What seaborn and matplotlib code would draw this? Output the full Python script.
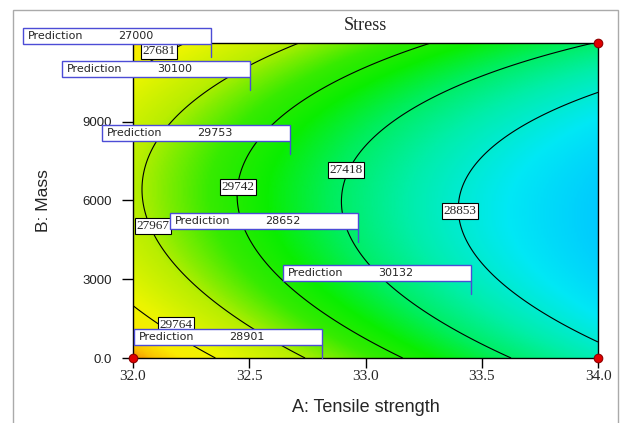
import numpy as np
import seaborn as sns
import matplotlib.pyplot as plt
from matplotlib.colors import LinearSegmentedColormap
from matplotlib.patches import Rectangle
from matplotlib.lines import Line2D

# factor ranges
a_range = [32.0, 34.0]        # A: Tensile strength
b_range = [0.0, 12000.0]      # B: Mass

# quadratic response model for Stress, coded units (a, b in [-1, 1])
# terms: intercept, A, B, AB, A^2, B^2
model_coefs = [28392.0, -1029.5, 26.0, 147.5, 132.5, 819.0]
contour_levels = [28000, 28500, 29000, 29500, 30000]

# labels sitting on the contour lines (as printed in the picture)
contour_label_text = ['27681', '29742', '27418', '27967', '28853', '29764']
contour_label_a = [32.112, 32.452, 32.916, 32.086, 33.406, 32.185]
contour_label_b = [11695, 6514, 7162, 5029, 5600, 1257]

# prediction flags
pred_values = [27000, 30100, 29753, 28652, 30132, 28901]
pred_a = [32.335, 32.503, 32.675, 32.968, 33.454, 32.813]
pred_b = [11467, 10210, 7771, 4419, 2438, 0]

# design points
design_a = [32.0, 34.0, 34.0]
design_b = [0, 12000, 0]

x_ticks = [32.0, 32.5, 33.0, 33.5, 34.0]
y_ticks = [0, 3000, 6000, 9000]
y_tick_labels = ['0.0', '3000', '6000', '9000']


def stress(A, B):
    a = (A - 33.0) / 1.0
    b = (B - 6000.0) / 6000.0
    c = model_coefs
    return c[0] + c[1]*a + c[2]*b + c[3]*a*b + c[4]*a**2 + c[5]*b**2


sns.set_style("ticks")
plt.rcParams['font.family'] = ['Liberation Sans', 'DejaVu Sans']

# Design-Expert style colour ramp (blue -> cyan -> green -> yellow -> orange)
vmin, vmax = 27450, 30520
nodes = [(27450, (0, 200, 255)), (27800, (0, 232, 245)), (28200, (0, 238, 170)),
         (28550, (0, 238, 90)), (28850, (10, 238, 0)), (29150, (55, 235, 0)),
         (29550, (185, 238, 0)), (29950, (235, 245, 0)), (30200, (250, 235, 0)),
         (30380, (250, 195, 0)), (30520, (245, 135, 0))]
cmap = LinearSegmentedColormap.from_list(
    'de', [((v - vmin) / (vmax - vmin), tuple(ch / 255 for ch in col)) for v, col in nodes])

fig = plt.figure(figsize=(6.21, 4.23), dpi=100)
W, H = 621, 423
ax = fig.add_axes([133/W, 1-358/H, 465/W, 315/H])

gA, gB = np.meshgrid(np.linspace(a_range[0], a_range[1], 300),
                     np.linspace(b_range[0], b_range[1], 300))
S = stress(gA, gB)
ax.imshow(S, extent=[a_range[0], a_range[1], b_range[0], b_range[1]], origin='lower',
          aspect='auto', cmap=cmap, vmin=vmin, vmax=vmax, interpolation='bilinear', zorder=0)
ax.contour(gA, gB, S, levels=contour_levels, colors='black', linewidths=0.8, zorder=1)

for t, ca, cb in zip(contour_label_text, contour_label_a, contour_label_b):
    ax.text(ca, cb, t, ha='center', va='center', fontsize=9.5, family='Liberation Serif',
            bbox=dict(boxstyle='square,pad=0.12', fc='white', ec='black', lw=0.8), zorder=3)

sns.scatterplot(x=design_a, y=design_b, ax=ax, color='#e00000', edgecolor='#900000',
                s=38, linewidth=0.8, zorder=6, clip_on=False)

ax.set_xlim(a_range)
ax.set_ylim(b_range)
ax.set_xticks(x_ticks)
ax.set_xticklabels([f'{v:.1f}' for v in x_ticks], family='Liberation Serif', fontsize=11)
ax.set_yticks(y_ticks)
ax.set_yticklabels(y_tick_labels, fontsize=9.5, color='#222222')
ax.tick_params(axis='x', direction='out', length=7.2, width=1, pad=1.5, color='black')
ax.tick_params(axis='y', direction='out', length=7.9, width=1, pad=7, color='black')
for sp in ax.spines.values():
    sp.set_color('black')
    sp.set_linewidth(1)

ax.set_xlabel('A: Tensile strength', fontsize=13)
ax.set_ylabel('B: Mass', fontsize=12.5)
ax.xaxis.set_label_coords(0.5, -0.130)
ax.yaxis.set_label_coords(-0.176, 0.5)

# prediction flags (box above-left of the point with a tail down to it)
blue = '#4c4cd6'
for val, pa, pb in zip(pred_values, pred_a, pred_b):
    tx, ty = ax.transData.transform((pa, pb))
    tx, ty = tx / fig.dpi * 100, ty / fig.dpi * 100
    x0, y0 = tx - 188, ty + 13
    fig.add_artist(Rectangle((x0/W, y0/H), 188/W, 16/H, transform=fig.transFigure,
                             fc='white', ec=blue, lw=1, zorder=5))
    fig.add_artist(Line2D([tx/W, tx/W], [ty/H, y0/H], transform=fig.transFigure,
                          color=blue, lw=1, zorder=5))
    fig.text((x0+5)/W, (y0+8)/H, 'Prediction', ha='left', va='center', fontsize=8,
             family='DejaVu Sans', zorder=6)
    fig.text((x0+95)/W, (y0+8)/H, str(val), ha='left', va='center', fontsize=8,
             family='DejaVu Sans', zorder=6)

fig.text(365/W, 1-25/H, 'Stress', ha='center', va='center', fontsize=13,
         family='Liberation Serif')

# light grey outer frame
fig.add_artist(Rectangle((13/W, -0.05), (618-13)/W, 1-10/H+0.05, transform=fig.transFigure,
                         fill=False, ec='#aaaaaa', lw=1, zorder=0))

plt.savefig('out.png', dpi=100, facecolor='white')
plt.close()
